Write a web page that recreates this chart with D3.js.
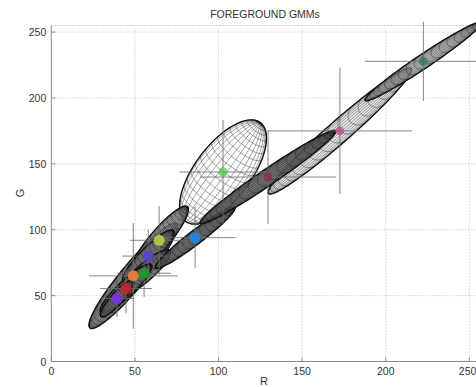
<!DOCTYPE html>
<html>
<head>
<meta charset="utf-8">
<script src="https://cdn.jsdelivr.net/npm/d3@7"></script>
<style>
  html, body { margin: 0; padding: 0; background: #fff; }
  svg { display: block; }
  text { font-family: "Liberation Sans", Arial, sans-serif; fill: #333; }
</style>
</head>
<body>
<svg id="chart" width="476" height="387"></svg>
<script>
// ---------- data ----------
const title = "FOREGROUND GMMs";
const xLabel = "R";
const yLabel = "G";
const xTicks = [0, 50, 100, 150, 200, 250];
const yTicks = [0, 50, 100, 150, 200, 250];
const xDomain = [0, 255];
const yDomain = [0, 255];

// GMM components (projected onto the R-G plane)
const meanR = [39.3, 44.7, 49.0, 55.5, 58.0, 64.5, 86.0, 102.7, 129.6, 172.6, 222.5];
const meanG = [47.8, 55.4, 65.0, 67.0, 80.0, 92.0, 94.0, 143.8, 140.0, 175.0, 227.8];
const sdR   = [10.0, 15.5, 26.5, 16.0, 15.5, 17.5, 24.0, 26.0, 40.7, 43.0, 35.0];
const sdG   = [14.0, 18.6, 40.0, 18.0, 20.0, 26.0, 23.5, 39.6, 35.5, 48.0, 30.0];
const rho   = [0.88, 0.90, 0.935, 0.88, 0.90, 0.90, 0.96, 0.65, 0.978, 0.973, 0.977];

// styles (separate from data)
const compColors = ["#7b2fe0", "#c0262c", "#e8823a", "#1e9a2c", "#5b3fd6", "#b4cf48",
                    "#1f86e6", "#4ccd4c", "#8c2a55", "#c04a84", "#2e7c5e"];
const meshShade  = [0.55, 0.55, 0.6, 0.55, 0.55, 0.5, 0.7, 0.0, 0.7, 0.12, 0.3];

// ---------- layout ----------
const svg = d3.select("#chart");
const x = d3.scaleLinear().domain(xDomain).range([51.3, 477.7]);
const y = d3.scaleLinear().domain(yDomain).range([361.5, 25.5]);

// grid
const grid = svg.append("g");
grid.selectAll(".gx").data(xTicks.slice(1)).enter().append("line")
  .attr("x1", d => x(d)).attr("x2", d => x(d))
  .attr("y1", y(yDomain[0])).attr("y2", y(yDomain[1]))
  .attr("stroke", "#bdbdbd").attr("stroke-width", 1).attr("stroke-dasharray", "1,2");
grid.selectAll(".gy").data(yTicks.slice(1)).enter().append("line")
  .attr("y1", d => y(d)).attr("y2", d => y(d))
  .attr("x1", x(xDomain[0])).attr("x2", x(xDomain[1]))
  .attr("stroke", "#bdbdbd").attr("stroke-width", 1).attr("stroke-dasharray", "1,2");
svg.append("line").attr("x1", x(0)).attr("x2", x(255)).attr("y1", y(255)).attr("y2", y(255))
  .attr("stroke", "#c8c8c8").attr("stroke-dasharray", "2,1");

// ---------- ellipsoid meshes ----------
const kx = x(1) - x(0), ky = y(1) - y(0);
const nLat = 22, nLon = 28;
const tau = 8 * Math.PI / 180;
const meshLayer = svg.append("g");
const lineGen = d3.line();

function comp(i) {
  const cRR = sdR[i] * sdR[i], cGG = sdG[i] * sdG[i], cRG = rho[i] * sdR[i] * sdG[i];
  const a = kx * kx * cRR, d = ky * ky * cGG, b = kx * ky * cRG;
  const th = 0.5 * Math.atan2(2 * b, a - d);
  const tr = (a + d) / 2, df = Math.sqrt(((a - d) / 2) ** 2 + b * b);
  const l1 = tr + df, l2 = Math.max(tr - df, 1e-6);
  const A = Math.sqrt(l1), B = Math.sqrt(l2);
  const A1 = [A * Math.cos(th) / kx, A * Math.sin(th) / ky];
  const A2 = [-B * Math.sin(th) / kx, B * Math.cos(th) / ky];
  return { A1, A2 };
}

function proj(i, ax, X, Y) {
  const R = meanR[i] + X * ax.A1[0] + Y * ax.A2[0];
  const G = meanG[i] + X * ax.A1[1] + Y * ax.A2[1];
  return [x(R), y(G)];
}

function sphere(phi, theta) {
  const px = Math.sin(phi), py = Math.cos(phi) * Math.cos(theta), pz = Math.cos(phi) * Math.sin(theta);
  return { X: px * Math.cos(tau) - pz * Math.sin(tau), Y: py, Z: px * Math.sin(tau) + pz * Math.cos(tau) };
}

const drawOrder = [7, 9, 10, 2, 5, 4, 3, 1, 0, 6, 8];
drawOrder.forEach(i => {
  const ax = comp(i);
  const g = meshLayer.append("g");
  const outline = d3.range(0, 361, 3).map(t => {
    const r = t * Math.PI / 180;
    return proj(i, ax, Math.cos(r), Math.sin(r));
  });
  g.append("path").attr("d", lineGen(outline) + "Z")
    .attr("fill", "#ffffff").attr("fill-opacity", 0.6).attr("stroke", "none");
  g.append("path").attr("d", lineGen(outline) + "Z")
    .attr("fill", "#3c3c3c").attr("fill-opacity", meshShade[i]).attr("stroke", "none");
  const segs = [];
  for (let k = 1; k < nLat; k++) {
    const phi = -Math.PI / 2 + Math.PI * k / nLat;
    let cur = [];
    for (let t = 0; t <= 360; t += 4) {
      const s = sphere(phi, t * Math.PI / 180);
      if (s.Z >= 0) cur.push(proj(i, ax, s.X, s.Y));
      else { if (cur.length > 1) segs.push(cur); cur = []; }
    }
    if (cur.length > 1) segs.push(cur);
  }
  for (let k = 0; k < nLon; k++) {
    const theta = 2 * Math.PI * (k + 0.5) / nLon;
    let cur = [];
    for (let p = -90; p <= 90; p += 3) {
      const s = sphere(p * Math.PI / 180, theta);
      if (s.Z >= 0) cur.push(proj(i, ax, s.X, s.Y));
      else { if (cur.length > 1) segs.push(cur); cur = []; }
    }
    if (cur.length > 1) segs.push(cur);
  }
  g.selectAll("path.m").data(segs).enter().append("path").attr("class", "m")
    .attr("d", lineGen).attr("fill", "none")
    .attr("stroke", "#111").attr("stroke-width", 0.55).attr("stroke-opacity", 0.7);
  g.append("path").attr("d", lineGen(outline) + "Z")
    .attr("fill", "none").attr("stroke", "#111").attr("stroke-width", 1.3);
});

// ---------- crosshairs (±sd) ----------
const cross = svg.append("g");
d3.range(meanR.length).forEach(i => {
  cross.append("line")
    .attr("x1", x(meanR[i] - sdR[i])).attr("x2", x(meanR[i] + sdR[i]))
    .attr("y1", y(meanG[i])).attr("y2", y(meanG[i]))
    .attr("stroke", "#6e6e6e").attr("stroke-width", 1).attr("stroke-opacity", 0.85);
  cross.append("line")
    .attr("x1", x(meanR[i])).attr("x2", x(meanR[i]))
    .attr("y1", y(meanG[i] - sdG[i])).attr("y2", y(meanG[i] + sdG[i]))
    .attr("stroke", "#6e6e6e").attr("stroke-width", 1).attr("stroke-opacity", 0.85);
});

// ---------- markers ----------
svg.append("g").selectAll("circle").data(d3.range(meanR.length)).enter().append("circle")
  .attr("cx", i => x(meanR[i])).attr("cy", i => y(meanG[i]))
  .attr("r", i => i < 7 ? 5.5 : 4.5)
  .attr("fill", i => compColors[i]).attr("fill-opacity", i => i < 7 ? 0.9 : 0.75);

// ---------- axes ----------
const axisG = svg.append("g");
axisG.append("line").attr("x1", x(0)).attr("x2", x(0)).attr("y1", y(0)).attr("y2", y(255))
  .attr("stroke", "#8a8a8a").attr("stroke-width", 1);
axisG.append("line").attr("x1", x(0)).attr("x2", x(255)).attr("y1", y(0)).attr("y2", y(0))
  .attr("stroke", "#8a8a8a").attr("stroke-width", 1);
xTicks.forEach((t, k) => {
  axisG.append("line").attr("x1", x(t)).attr("x2", x(t)).attr("y1", y(0)).attr("y2", y(0) - 4)
    .attr("stroke", "#8a8a8a");
  const last = k === xTicks.length - 1;
  axisG.append("text").attr("x", last ? x(t) + 7 : x(t)).attr("y", y(0) + 13)
    .attr("text-anchor", last ? "end" : "middle")
    .attr("font-size", 10.5).text(t);
});
yTicks.forEach(t => {
  axisG.append("line").attr("x1", x(0)).attr("x2", x(0) + 4).attr("y1", y(t)).attr("y2", y(t))
    .attr("stroke", "#8a8a8a");
  axisG.append("text").attr("x", x(0) - 5).attr("y", y(t) + 4).attr("text-anchor", "end")
    .attr("font-size", 10.5).text(t);
});
svg.append("text").attr("x", 264).attr("y", 385).attr("text-anchor", "middle")
  .attr("font-size", 11).text(xLabel);
svg.append("text").attr("transform", "translate(24,193) rotate(-90)").attr("text-anchor", "middle")
  .attr("font-size", 11).text(yLabel);
svg.append("text").attr("x", 265).attr("y", 18).attr("text-anchor", "middle")
  .attr("font-size", 10.5).text(title);
</script>
</body>
</html>
